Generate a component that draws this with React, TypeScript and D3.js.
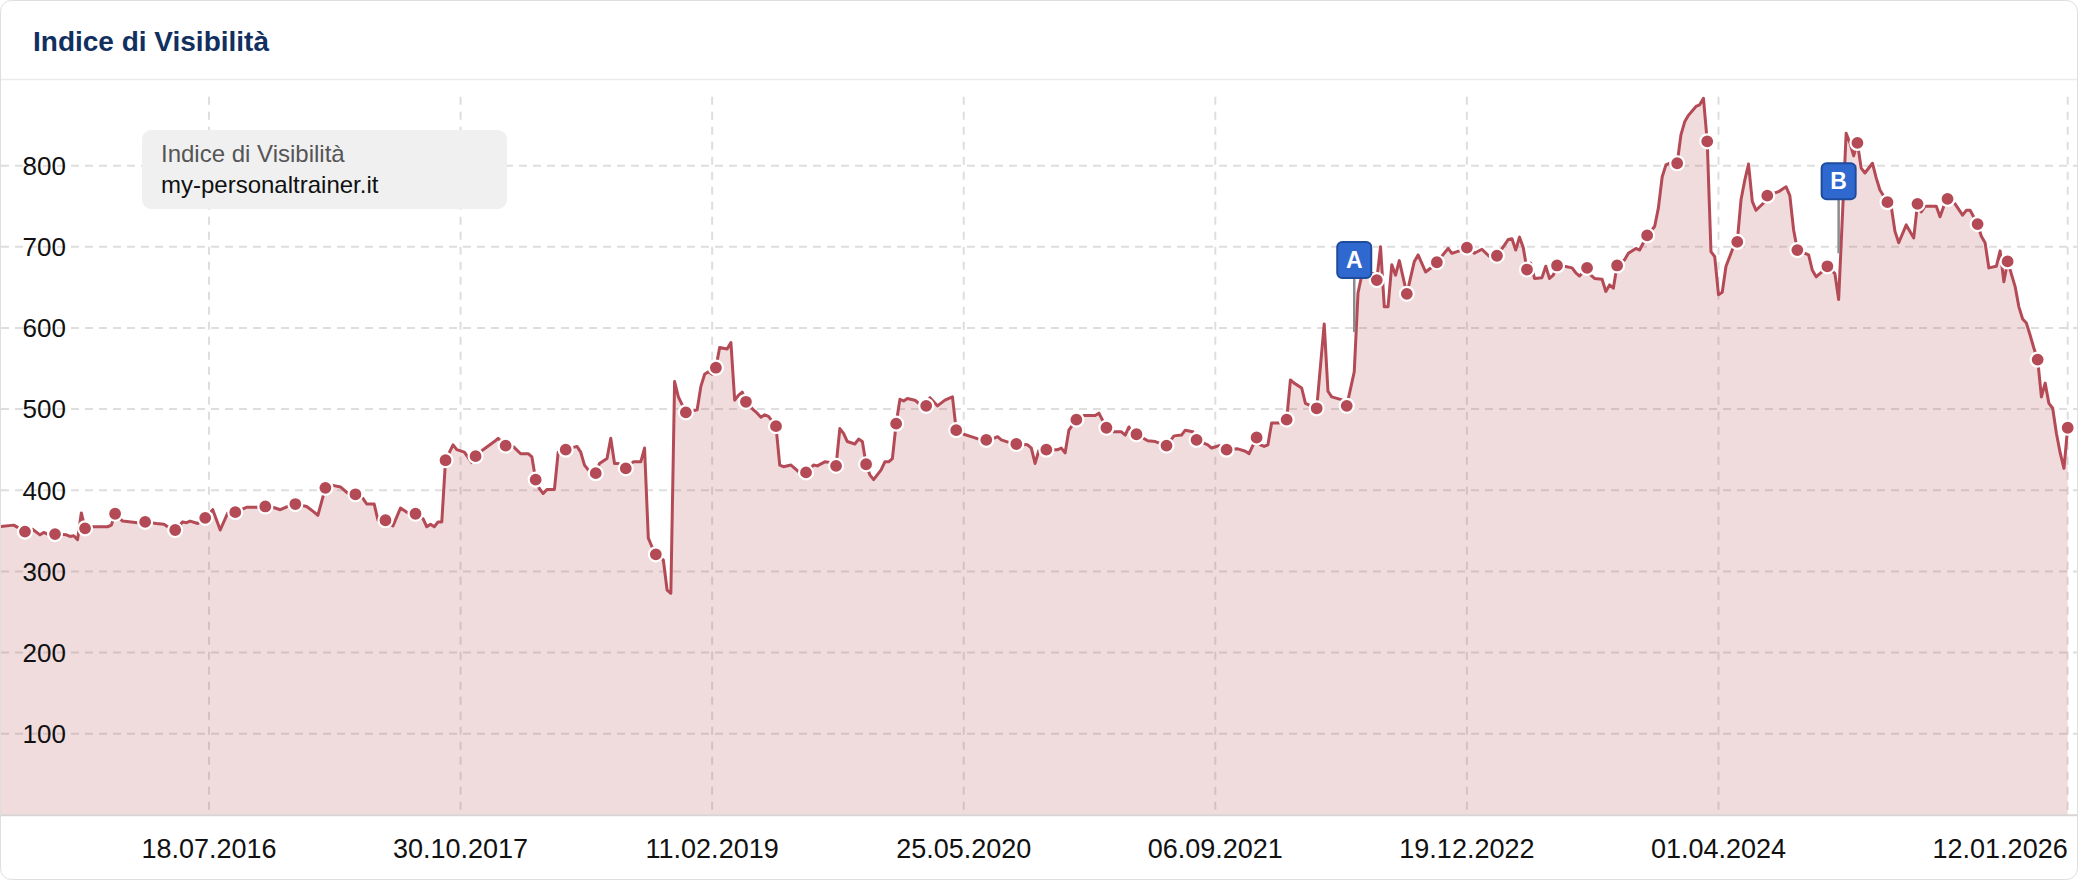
import React from 'react';
import * as d3 from 'd3';

// ---------- data ----------
const START_DATE = '2015-06-22'; // week 0 (Monday)
const END_DATE = '2026-01-12';   // last data point / last tick

// week offsets from START_DATE
const WEEKS = [
  0, 4, 7, 9, 11, 12, 13, 15, 18, 19, 20, 21, 22, 23, 25, 29, 30, 31, 33, 37, 39,
  42, 44, 45, 47, 49, 50, 51, 53, 55, 57, 59, 61, 63, 66, 69, 71, 73, 75, 77, 79,
  82, 84, 85, 87, 89, 91, 93, 95, 97, 98, 100, 101, 103, 105, 107, 109, 111, 113,
  114, 115, 116, 117, 118, 119, 121, 122, 124, 126, 127, 129, 132, 133, 135, 137,
  139, 141, 142, 143, 144, 145, 146, 148, 149, 151, 154, 155, 156, 157, 159, 160,
  162, 163, 164, 165, 167, 169, 171, 172, 173, 174, 175, 177, 178, 179, 180, 181,
  183, 186, 187, 188, 189, 190, 191, 192, 194, 195, 196, 197, 198, 199, 201, 202,
  203, 204, 205, 207, 208, 209, 211, 212, 213, 215, 217, 218, 220, 222, 223, 224,
  225, 226, 228, 229, 230, 231, 232, 233, 235, 236, 237, 238, 239, 240, 241, 242,
  244, 245, 247, 248, 250, 252, 254, 255, 257, 259, 261, 263, 265, 266, 267, 269,
  271, 274, 275, 276, 277, 279, 282, 283, 284, 285, 287, 289, 292, 293, 294, 295,
  297, 299, 300, 301, 302, 303, 306, 308, 311, 313, 315, 316, 318, 319, 322, 323,
  325, 327, 330, 332, 333, 335, 336, 337, 338, 339, 341, 343, 344, 345, 347, 348,
  351, 353, 354, 355, 358, 359, 361, 362, 363, 364, 366, 367, 368, 369, 370, 371,
  372, 373, 375, 377, 378, 380, 382, 383, 386, 387, 389, 391, 393, 395, 397, 399,
  401, 402, 403, 404, 405, 406, 407, 408, 409, 411, 412, 413, 414, 415, 417, 419,
  420, 421, 423, 424, 425, 427, 428, 429, 430, 431, 433, 434, 436, 437, 439, 441,
  442, 443, 444, 446, 447, 448, 449, 450, 452, 453, 454, 455, 456, 457, 458, 459,
  460, 462, 463, 464, 465, 466, 467, 468, 470, 471, 474, 476, 477, 478, 479, 482,
  483, 484, 486, 487, 489, 490, 492, 493, 494, 495, 496, 497, 499, 500, 501, 503,
  504, 505, 506, 508, 510, 511, 512, 513, 515, 516, 517, 518, 519, 521, 523, 524,
  525, 527, 528, 529, 530, 532, 533, 534, 535, 537, 538, 539, 540, 541, 542, 543,
  544, 545, 546, 547, 548, 549, 550, 551,
];

const VALUES = [
  355, 357, 349, 352, 345, 348, 346, 346, 345, 343, 344, 339, 372, 353, 355, 355, 357, 371, 362, 360, 361,
  359, 358, 355, 351, 361, 360, 362, 359, 366, 376, 351, 372, 373, 379, 379, 380, 379, 376, 380, 383,
  380, 373, 369, 403, 406, 404, 396, 395, 390, 383, 383, 363, 363, 356, 378, 372, 371, 365,
  355, 358, 355, 361, 361, 437, 456, 450, 447, 434, 442, 450, 460, 464, 455, 454,
  445, 445, 441, 413, 402, 396, 401, 401, 447, 450, 454, 447, 431, 425, 421, 433,
  439, 464, 433, 433, 427, 435, 435, 452, 341, 330, 321, 314, 277, 273, 534, 515,
  496, 499, 528, 543, 546, 543, 551, 576, 574, 582, 511, 517, 521, 509, 499, 495,
  490, 493, 491, 479, 431, 429, 431, 427, 423, 422, 431, 430, 435, 434, 430, 476,
  470, 460, 457, 463, 460, 432, 419, 413, 425, 435, 435, 439, 482, 512, 510, 513,
  511, 507, 504, 514, 504, 511, 515, 474, 469, 466, 463, 462, 464, 466, 462, 459,
  457, 456, 452, 433, 449, 450, 450, 452, 446, 474, 487, 492, 492, 495, 486, 477,
  472, 472, 468, 478, 468, 469, 461, 460, 455, 467, 468, 474, 472, 462, 456, 452,
  455, 450, 451, 448, 445, 465, 456, 454, 456, 483, 483, 487, 536, 532, 526, 507,
  501, 605, 522, 515, 511, 504, 546, 643, 665, 665, 667, 659, 700, 626, 626, 678,
  665, 683, 642, 682, 690, 669, 676, 681, 698, 692, 695, 699, 692, 697, 688, 689,
  702, 709, 710, 696, 712, 699, 672, 680, 661, 662, 676, 661, 665, 677, 676, 674,
  668, 664, 674, 665, 661, 660, 645, 653, 649, 677, 684, 692, 698, 696, 714, 725,
  748, 786, 801, 805, 803, 838, 854, 862, 873, 875, 883, 830, 694, 688, 641, 644,
  676, 700, 706, 758, 782, 802, 756, 745, 754, 763, 768, 774, 763, 721, 696, 690,
  671, 663, 671, 676, 667, 635, 840, 828, 812, 828, 797, 791, 803, 785, 770, 755,
  750, 719, 705, 727, 711, 753, 743, 750, 750, 750, 737, 750, 759, 753, 739, 745,
  745, 728, 713, 705, 674, 676, 695, 657, 682, 651, 626, 611, 606, 591, 575, 561,
  515, 532, 507, 501, 470, 446, 427, 477,
];

const MARKER_STEP = 8;   // a dot every 8 weeks
const MARKER_PHASE = 7;

const TICK_DATES = [
  '2016-07-18', '2017-10-30', '2019-02-11', '2020-05-25',
  '2021-09-06', '2022-12-19', '2024-04-01', '2026-01-12',
];
const Y_TICKS = [100, 200, 300, 400, 500, 600, 700, 800];
const Y_MAX = 885;

const FLAG_LABELS = ['A', 'B'];
const FLAG_WEEKS = [361, 490];
const FLAG_VALUES = [595, 692];

const TITLE = 'Indice di Visibilità';
const LEGEND_TITLE = 'Indice di Visibilità';
const LEGEND_DOMAIN = 'my-personaltrainer.it';

// ---------- layout ----------
const W = 2078;
const H = 880;
const PLOT_TOP = 96.7;
const PLOT_BOTTOM = 814.8;
const X_START = -1.3;
const X_END = 2067.7;
const LINE_COLOR = '#b44a55';
const FONT = '"Liberation Sans", Arial, Helvetica, sans-serif';

const DAY = 24 * 3600 * 1000;

export default function App() {
  const start = new Date(START_DATE + 'T00:00:00Z');
  const end = new Date(END_DATE + 'T00:00:00Z');
  const x = d3.scaleUtc().domain([start, end]).range([X_START, X_END]);
  const y = d3.scaleLinear().domain([0, Y_MAX]).range([PLOT_BOTTOM, PLOT_TOP]);

  const data = WEEKS.map((w, i) => ({
    w,
    date: new Date(start.getTime() + w * 7 * DAY),
    v: VALUES[i],
  }));

  const line = d3
    .line<any>()
    .x((d) => x(d.date))
    .y((d) => y(d.v));
  const area = d3
    .area<any>()
    .x((d) => x(d.date))
    .y0(PLOT_BOTTOM)
    .y1((d) => y(d.v));

  const markers = data.filter((d) => d.w % MARKER_STEP === MARKER_PHASE);
  const ticks = TICK_DATES.map((s) => new Date(s + 'T00:00:00Z'));
  const fmt = d3.utcFormat('%d.%m.%Y');

  return (
    <svg
      width={W}
      height={H}
      viewBox={`0 0 ${W} ${H}`}
      style={{ position: 'absolute', left: 0, top: 0, display: 'block' }}
      fontFamily={FONT}
    >
      <defs>
        <clipPath id="plotClip">
          <rect x={1} y={80} width={W - 2} height={PLOT_BOTTOM - 80 + 1} />
        </clipPath>
      </defs>
      {/* card */}
      <rect x={0.5} y={0.5} width={W - 1} height={H - 1} rx={11} fill="#ffffff" stroke="#dedede" />
      <line x1={1} x2={W - 1} y1={79.5} y2={79.5} stroke="#ececec" strokeWidth={1.5} />
      <text x={33} y={51} fontSize={28} fontWeight="bold" fill="#12305f">
        {TITLE}
      </text>

      {/* grid */}
      <g>
        {Y_TICKS.map((t) => (
          <line
            key={'h' + t}
            x1={1}
            x2={W - 1}
            y1={y(t)}
            y2={y(t)}
            stroke="#dedede"
            strokeWidth={2}
            strokeDasharray="8,6"
          />
        ))}
        {ticks.map((t, i) => (
          <line
            key={'v' + i}
            x1={x(t)}
            x2={x(t)}
            y1={PLOT_TOP}
            y2={PLOT_BOTTOM}
            stroke="#dedede"
            strokeWidth={2}
            strokeDasharray="8,7"
          />
        ))}
      </g>

      {/* series */}
      <g clipPath="url(#plotClip)">
        <path d={area(data) || ''} fill={LINE_COLOR} fillOpacity={0.2} />
        <path d={line(data) || ''} fill="none" stroke={LINE_COLOR} strokeWidth={3} strokeLinejoin="round" />
        {markers.map((d, i) => (
          <circle
            key={'m' + i}
            cx={x(d.date)}
            cy={y(d.v)}
            r={7}
            fill={LINE_COLOR}
            stroke="#ffffff"
            strokeWidth={2.2}
          />
        ))}
      </g>

      {/* x axis line */}
      <line x1={1} x2={W - 1} y1={PLOT_BOTTOM + 0.5} y2={PLOT_BOTTOM + 0.5} stroke="#d9d4d5" strokeWidth={2} />

      {/* y labels */}
      {Y_TICKS.map((t) => (
        <text key={'yl' + t} x={66} y={y(t) + 9.3} fontSize={26} textAnchor="end" fill="#111">
          {t}
        </text>
      ))}

      {/* x labels */}
      {ticks.map((t, i) => (
        <text
          key={'xl' + i}
          x={x(t)}
          y={858}
          fontSize={27}
          textAnchor={i === ticks.length - 1 ? 'end' : 'middle'}
          fill="#111"
        >
          {fmt(t)}
        </text>
      ))}

      {/* flags */}
      {FLAG_LABELS.map((lab, i) => {
        const fx = x(new Date(start.getTime() + FLAG_WEEKS[i] * 7 * DAY));
        const fy = y(FLAG_VALUES[i]);
        const boxH = 36;
        const boxW = 34;
        const boxBottom = fy - 54;
        return (
          <g key={'f' + i}>
            <line x1={fx} x2={fx} y1={boxBottom} y2={fy} stroke="#8c8c8c" strokeWidth={2.5} />
            <rect
              x={fx - boxW / 2}
              y={boxBottom - boxH}
              width={boxW}
              height={boxH}
              rx={5}
              fill="#2f69d0"
              stroke="#1f4b9c"
              strokeWidth={2}
            />
            <text
              x={fx}
              y={boxBottom - boxH / 2 + 8}
              fontSize={23}
              fontWeight="bold"
              fill="#ffffff"
              textAnchor="middle"
            >
              {lab}
            </text>
          </g>
        );
      })}

      {/* legend box */}
      <rect x={142} y={130} width={365} height={79} rx={9} fill="#f0f0f0" />
      <text x={161} y={162} fontSize={24} fill="#555555">
        {LEGEND_TITLE}
      </text>
      <text x={161} y={193} fontSize={24} fill="#111111">
        {LEGEND_DOMAIN}
      </text>
    </svg>
  );
}
